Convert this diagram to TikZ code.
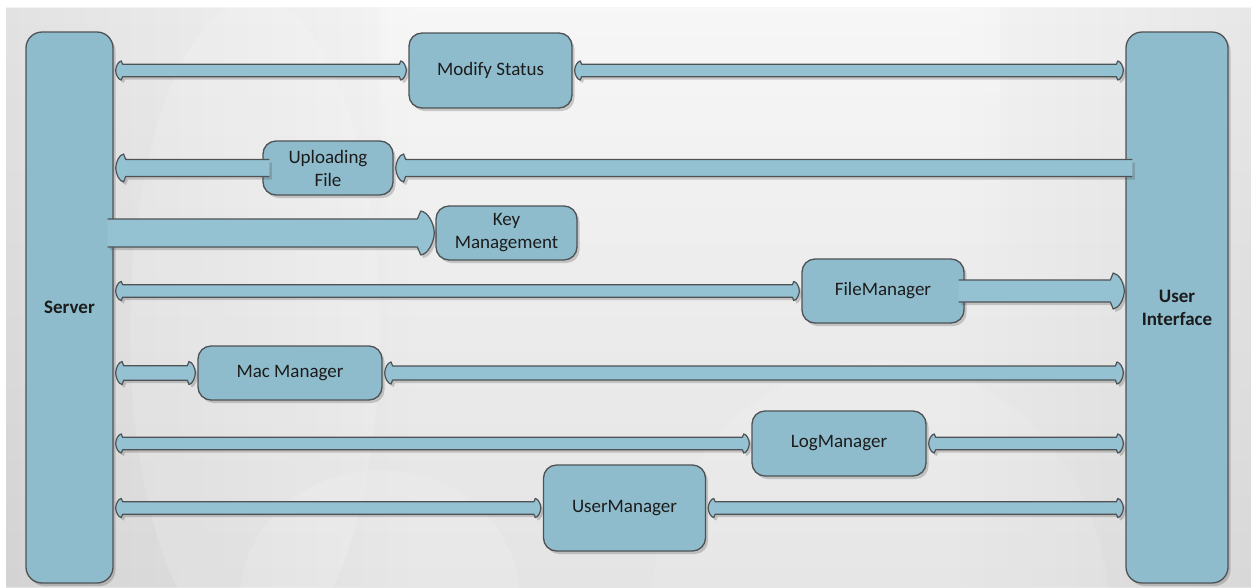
\documentclass[tikz,border=0pt]{standalone}
\usepackage{fontspec}
\setmainfont{Carlito}
\usetikzlibrary{shadows,calc,fadings}

\definecolor{boxblue}{RGB}{143,188,204}
\definecolor{barblue}{RGB}{148,194,210}
\definecolor{edge}{RGB}{78,82,85}
\definecolor{ink}{RGB}{28,28,28}
\definecolor{bgTop}{RGB}{244,244,244}
\definecolor{bgBot}{RGB}{228,228,228}

\tikzset{
  softshadow/.style={drop shadow={shadow xshift=2.5pt, shadow yshift=-3pt, opacity=0.26, fill=black!70}},
  block/.style={draw=edge, line width=1.3pt, fill=boxblue, rounded corners=13pt,
    text=ink, font=\fontsize{19}{23}\selectfont, align=center, inner sep=2pt, softshadow},
  pillar/.style={block, rounded corners=16pt, font=\fontsize{19}{23}\selectfont\bfseries},
  bar/.style={draw=edge, line width=1.2pt, fill=barblue, line join=round, softshadow},
}

% Block connectors: #1 left point, #2 right point, #3 half bar width,
% #4 half head width, #5 head length (all in pt).
% Heads at both ends, tips at #1 and #2.
\newcommand\twohead[5]{%
  \path[bar] let \p1=#1, \p2=#2 in
    ({\x1+#5pt},{\y1-#3pt}) -- ({\x1+0.8*#5pt},{\y1-#4pt})
    .. controls ({\x1+0.36*#5pt},{\y1-0.95*#4pt}) and ({\x1+0.04*#5pt},{\y1-0.45*#4pt}) .. (\x1,\y1)
    .. controls ({\x1+0.04*#5pt},{\y1+0.45*#4pt}) and ({\x1+0.36*#5pt},{\y1+0.95*#4pt}) .. ({\x1+0.8*#5pt},{\y1+#4pt})
    -- ({\x1+#5pt},{\y1+#3pt}) -- ({\x2-#5pt},{\y2+#3pt}) -- ({\x2-0.8*#5pt},{\y2+#4pt})
    .. controls ({\x2-0.36*#5pt},{\y2+0.95*#4pt}) and ({\x2-0.04*#5pt},{\y2+0.45*#4pt}) .. (\x2,\y2)
    .. controls ({\x2-0.04*#5pt},{\y2-0.45*#4pt}) and ({\x2-0.36*#5pt},{\y2-0.95*#4pt}) .. ({\x2-0.8*#5pt},{\y2-#4pt})
    -- ({\x2-#5pt},{\y2-#3pt}) -- cycle;}
% Head at the left end (tip #1), square open end at #2.
\newcommand\headflat[5]{%
  \path[bar] let \p1=#1, \p2=#2 in
    (\x2,{\y2+#3pt}) -- ({\x1+#5pt},{\y1+#3pt}) -- ({\x1+0.8*#5pt},{\y1+#4pt})
    .. controls ({\x1+0.36*#5pt},{\y1+0.95*#4pt}) and ({\x1+0.04*#5pt},{\y1+0.45*#4pt}) .. (\x1,\y1)
    .. controls ({\x1+0.04*#5pt},{\y1-0.45*#4pt}) and ({\x1+0.36*#5pt},{\y1-0.95*#4pt}) .. ({\x1+0.8*#5pt},{\y1-#4pt})
    -- ({\x1+#5pt},{\y1-#3pt}) -- (\x2,{\y2-#3pt});}
% Square open end at #1, head at the right end (tip #2).
\newcommand\flathead[5]{%
  \path[bar] let \p1=#1, \p2=#2 in
    (\x1,{\y1-#3pt}) -- ({\x2-#5pt},{\y2-#3pt}) -- ({\x2-0.8*#5pt},{\y2-#4pt})
    .. controls ({\x2-0.36*#5pt},{\y2-0.95*#4pt}) and ({\x2-0.04*#5pt},{\y2-0.45*#4pt}) .. (\x2,\y2)
    .. controls ({\x2-0.04*#5pt},{\y2+0.45*#4pt}) and ({\x2-0.36*#5pt},{\y2+0.95*#4pt}) .. ({\x2-0.8*#5pt},{\y2+#4pt})
    -- ({\x2-#5pt},{\y2+#3pt}) -- (\x1,{\y1+#3pt});}

\begin{document}
\begin{tikzpicture}[x=1pt, y=-1pt]
\useasboundingbox (0,0) rectangle (1251,587);

% backdrop
\fill[white] (0,0) rectangle (1251,587);
\shade[top color=bgTop, bottom color=bgBot] (6,7) rectangle (1251,587);
\begin{scope}
  \clip (6,7) rectangle (1251,587);
  \fill[black, opacity=0.07, path fading=east] (6,7) rectangle (420,587);
  \fill[black, opacity=0.05, path fading=west] (950,7) rectangle (1251,587);
  \fill[white, opacity=0.28, path fading=south] (380,7) rectangle (1000,300);
  \fill[white, opacity=0.14] (255,330) ellipse [x radius=125, y radius=330];
  \fill[white, opacity=0.12] (380,600) ellipse [x radius=140, y radius=130];
  \fill[white, opacity=0.10] (880,620) ellipse [x radius=230, y radius=260];
\end{scope}

% end points
\node[pillar, minimum width=87pt, minimum height=551pt] (srv) at (69.5,307.5) {Server};
\node[pillar, minimum width=102pt, minimum height=551pt] (ui) at (1177,307.5) {User\\Interface};

% services
\node[block, minimum width=163pt, minimum height=75pt] (ms)  at (490.5,70.5) {Modify Status};
\node[block, minimum width=130pt, minimum height=54pt] (up)  at (328,168) {Uploading\\File};
\node[block, minimum width=141pt, minimum height=54pt] (km)  at (506.5,233) {Key\\Management};
\node[block, minimum width=162pt, minimum height=64pt] (fm)  at (883,291) {FileManager};
\node[block, minimum width=184pt, minimum height=54pt] (mac) at (290,373) {Mac Manager};
\node[block, minimum width=174pt, minimum height=65pt] (log) at (839,443.5) {LogManager};
\node[block, minimum width=162pt, minimum height=86pt] (um)  at (624.5,508) {UserManager};

% connectors
\twohead{($(srv.east |- ms.west)+(2,0)$)}{($(ms.west)+(-2,0)$)}{6.2}{9.5}{7}
\twohead{($(ms.east)+(2,0)$)}{($(ui.west |- ms.east)+(-2,0)$)}{6.2}{9.5}{7}

\headflat{($(srv.east |- up.west)+(2,0)$)}{($(up.west)+(7,0)$)}{8.5}{14}{10}
\headflat{($(up.east)+(2,0)$)}{($(ui.west |- up.east)+(7,0)$)}{8.5}{14}{10}

\flathead{($(srv.east |- km.west)+(-6,0)$)}{($(km.west)+(-1,0)$)}{14}{22}{17}

\twohead{($(srv.east |- fm.west)+(2,0)$)}{($(fm.west)+(-2,0)$)}{6.2}{9.5}{7}
\flathead{($(fm.east)+(-6,0)$)}{($(ui.west |- fm.east)+(-1,0)$)}{11}{18}{14}

\twohead{($(srv.east |- mac.west)+(2,0)$)}{($(mac.west)+(-2,0)$)}{7.2}{11.5}{8}
\twohead{($(mac.east)+(2,0)$)}{($(ui.west |- mac.east)+(-2,0)$)}{7}{11}{8}

\twohead{($(srv.east |- log.west)+(2,0)$)}{($(log.west)+(-2,0)$)}{6.2}{9.5}{7}
\twohead{($(log.east)+(2,0)$)}{($(ui.west |- log.east)+(-2,0)$)}{6.2}{9.5}{7}

\twohead{($(srv.east |- um.west)+(2,0)$)}{($(um.west)+(-2,0)$)}{6.2}{9.5}{7}
\twohead{($(um.east)+(2,0)$)}{($(ui.west |- um.east)+(-2,0)$)}{6.2}{9.5}{7}
\end{tikzpicture}
\end{document}
